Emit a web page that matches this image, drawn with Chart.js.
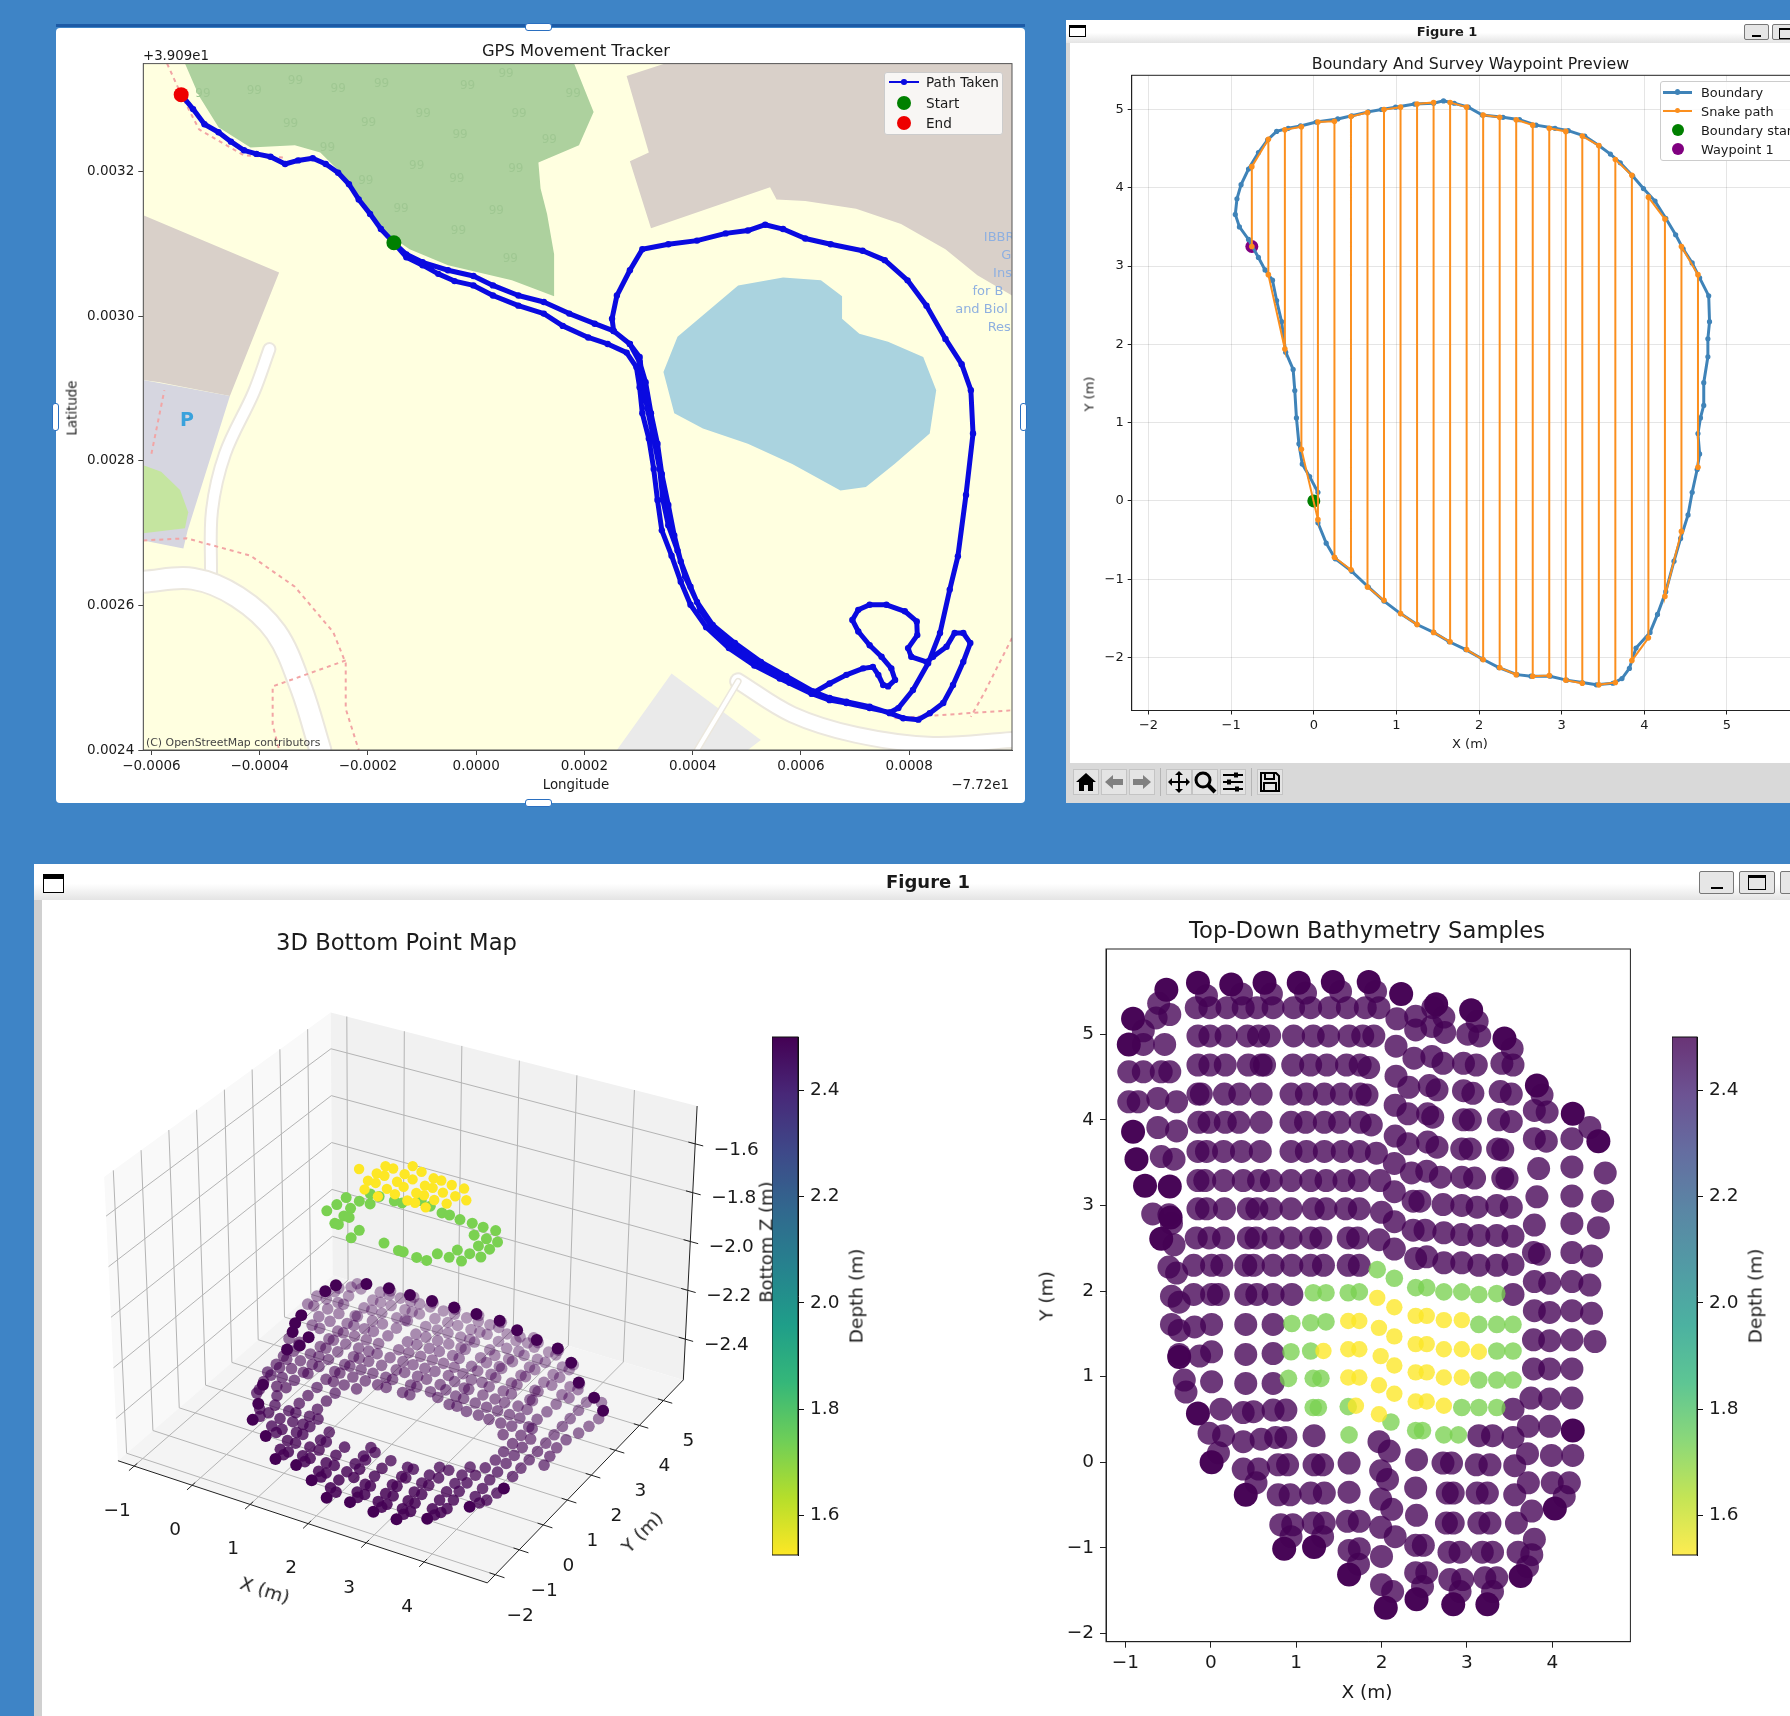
<!DOCTYPE html>
<html>
<head>
<meta charset="utf-8">
<title>Survey figures</title>
<script src="https://cdn.jsdelivr.net/npm/chart.js@4"></script>
<style>
html,body{margin:0;padding:0;width:1790px;height:1716px;overflow:hidden;background:#3e84c6;font-family:"DejaVu Sans",sans-serif;color:#1a1a1a}
canvas{position:absolute;filter:blur(0.45px)}
.box{position:absolute}
.txt{position:absolute;white-space:nowrap;transform:translate(-50%,-50%);filter:blur(0.3px)}
.bar{background:linear-gradient(#fff 55%,#e4e4e4)}
.btn{position:absolute;background:#e6e6e6;border:1px solid #777;border-radius:2px;box-sizing:border-box}
</style>
</head>
<body>
<script>
// ---------- GPS tracker values (lon / lat offsets, in units of 1e-4 deg)
const gpsLonTicks = [-6,-4,-2,0,2,4,6,8];
const gpsLatTicks = [24,26,28,30,32];
const gpsStart = [-1.52,31.02];
const gpsEnd = [-5.45,33.07];
const gpsOut = [[-1.52,31.02],[-1.29,30.82],[-0.99,30.71],[-0.70,30.59],[-0.40,30.49],[-0.05,30.43],[0.31,30.29],[0.78,30.15],[1.25,30.04],[1.60,29.87],[2.07,29.71],[2.43,29.62],[2.78,29.50],[2.96,29.30],[3.02,29.02],[3.07,28.66],[3.19,28.31],[3.28,27.89],[3.35,27.46],[3.43,27.04],[3.61,26.69],[3.78,26.33],[3.96,26.01],[4.25,25.70],[4.67,25.41],[5.14,25.17],[5.61,24.99],[6.20,24.78],[6.53,24.69],[6.84,24.65],[7.27,24.58],[7.64,24.52],[7.80,24.58],[8.07,24.83],[8.35,25.20],[8.57,25.62],[8.75,26.22],[8.90,26.68]];
const gpsLake = [[9.05,27.53],[9.18,28.38],[9.14,28.98],[8.97,29.34],[8.67,29.69],[8.32,30.15],[7.97,30.50],[7.55,30.78],[7.14,30.91],[6.55,31.0],[6.08,31.08],[5.67,31.21],[5.34,31.27],[5.02,31.19],[4.61,31.15],[4.08,31.05],[3.55,31.0],[3.07,30.93],[2.84,30.64],[2.60,30.29],[2.51,29.97],[2.54,29.80],[2.84,29.62]];
const gpsSouth = [[3.02,29.37],[3.13,29.09],[3.23,28.66],[3.35,28.24],[3.43,27.82],[3.55,27.39],[3.66,26.97],[3.78,26.61],[3.96,26.26],[4.14,25.94],[4.43,25.63],[4.84,25.38],[5.31,25.13],[5.79,24.93],[6.20,24.78]];
const gpsLoop = [[6.53,24.92],[6.84,25.04],[7.15,25.13],[7.33,25.15],[7.43,25.04],[7.52,24.90],[7.61,24.88],[7.74,24.97],[7.67,25.13],[7.49,25.29],[7.27,25.45],[7.06,25.64],[6.95,25.80],[7.06,25.94],[7.27,26.01],[7.58,26.01],[7.92,25.92],[8.14,25.78],[8.15,25.59],[7.98,25.41],[8.04,25.29],[8.32,25.22],[8.44,25.29],[8.69,25.43],[8.84,25.62],[9.0,25.62],[9.13,25.48],[9.0,25.22],[8.81,24.90],[8.63,24.65],[8.38,24.51],[8.17,24.42],[7.89,24.44],[7.64,24.51],[7.27,24.60],[6.84,24.67],[6.53,24.72],[6.23,24.81]];
const gpsBack = [[5.73,25.02],[5.26,25.22],[4.78,25.48],[4.37,25.73],[4.08,26.05],[3.86,26.40],[3.72,26.76],[3.55,27.11],[3.45,27.46],[3.39,27.89],[3.28,28.31],[3.16,28.73],[3.07,29.16],[3.02,29.44],[2.84,29.62],[2.54,29.80],[2.19,29.90],[1.72,30.04],[1.25,30.20],[0.78,30.29],[0.31,30.43],[-0.05,30.56],[-0.52,30.64],[-0.99,30.75],[-1.29,30.86],[-1.52,31.02],[-1.76,31.21],[-1.96,31.42],[-2.17,31.62],[-2.35,31.83],[-2.55,31.99],[-2.78,32.11],[-3.02,32.19],[-3.29,32.16],[-3.53,32.11],[-3.80,32.21],[-4.06,32.25],[-4.29,32.30],[-4.53,32.42],[-4.76,32.55],[-5.02,32.66],[-5.23,32.87],[-5.45,33.07]];
const gpsPath = gpsOut.concat(gpsLake, gpsSouth, gpsLoop, gpsBack);

// map shapes behind the track, same units
const mapLand = [[-6.15,24],[9.9,24],[9.9,33.5],[-6.15,33.5]];
const mapForest = [[-5.38,33.5],[1.81,33.5],[2.17,32.83],[1.90,32.37],[1.15,32.13],[1.19,31.77],[1.31,31.42],[1.44,30.86],[1.44,30.28],[0.66,30.50],[-0.52,30.71],[-1.23,30.93],[-1.64,31.14],[-2.05,31.49],[-2.41,31.92],[-2.88,32.27],[-3.35,32.37],[-4.17,32.34],[-4.76,32.62],[-5.12,33.05]];
const mapBuildingNE = [[2.78,33.33],[3.49,33.5],[9.9,33.5],[9.9,30.29],[9.26,30.57],[8.67,30.93],[7.85,31.28],[7.02,31.49],[6.08,31.60],[5.55,31.62],[5.43,31.79],[3.23,31.22],[2.84,32.15],[3.19,32.27]];
const mapBuildingW = [[-6.15,31.40],[-3.64,30.61],[-4.55,28.90],[-5.85,29.09],[-6.15,29.12]];
const mapParking = [[-6.15,29.12],[-4.55,28.90],[-5.33,27.04],[-5.41,26.79],[-6.15,26.90]];
const mapLawn = [[-6.15,27.94],[-5.82,27.85],[-5.47,27.60],[-5.32,27.29],[-5.38,27.07],[-6.15,27.0]];
const mapLake = [[4.84,30.43],[5.67,30.54],[6.37,30.50],[6.76,30.28],[6.76,29.97],[7.08,29.76],[7.61,29.65],[8.26,29.44],[8.50,28.98],[8.38,28.38],[7.73,27.96],[7.20,27.64],[6.73,27.59],[5.84,27.96],[5.02,28.24],[4.19,28.45],[3.66,28.66],[3.46,29.23],[3.72,29.72]];
const mapShed = [[3.61,25.06],[5.26,24.14],[5.02,24],[2.60,24]];
const mapRoadA = [[-3.82,29.55],[-4.11,28.95],[-4.64,28.10],[-4.88,27.32],[-4.90,26.44]];
const mapRoadB = [[-6.15,26.33],[-5.23,26.37],[-4.41,26.12],[-3.70,25.63],[-3.23,24.85],[-2.88,24]];
const mapRoadC = [[4.84,24.95],[5.84,24.49],[7.02,24.21],[8.44,24.07],[9.9,24.14]];
const mapRoadD = [[4.84,24.95],[4.08,24]];
const mapTrails = [
  [[-6.15,26.90],[-5.35,26.93],[-4.17,26.69],[-3.35,26.26],[-2.64,25.63],[-2.41,25.20],[-2.41,24.57],[-2.17,24]],
  [[-2.41,25.24],[-3.76,24.88],[-3.76,24.35],[-3.64,24]],
  [[9.9,25.55],[9.38,24.78],[9.14,24.46]],
  [[7.73,24.44],[9.9,24.55]],
  [[-5.71,33.5],[-5.45,33.07],[-5.12,32.59],[-4.29,32.23],[-3.53,32.20]],
  [[-6,28.10],[-5.76,28.98]]
];
const mapTrees = [[-5.06,33.08],[-4.11,33.12],[-3.35,33.26],[-2.56,33.15],[-1.76,33.22],[-0.17,33.19],[0.54,33.36],[1.78,33.08],[-0.99,32.80],[0.78,32.80],[-3.44,32.66],[-2.0,32.68],[-0.31,32.52],[1.34,32.45],[-2.76,32.34],[-1.11,32.09],[0.72,32.04],[-2.05,31.88],[-0.37,31.90],[-1.40,31.49],[0.36,31.46],[-0.34,31.19],[0.62,30.80]];
const mapLabels = [['IBBR',9.38,31.09],['G',9.7,30.84],['Ins',9.55,30.59],['for B',9.17,30.34],['and Biol',8.85,30.09],['Res',9.45,29.84]];

// ---------- Boundary and survey preview values (metres)
const previewXTicks = [-2,-1,0,1,2,3,4,5,6];
const previewYTicks = [-2,-1,0,1,2,3,4,5];
const boundaryPts = [[0.05,0.11],[-0.05,0.31],[-0.14,0.47],[-0.18,0.73],[-0.21,1.06],[-0.23,1.41],[-0.25,1.68],[-0.34,1.90],[-0.39,2.29],[-0.45,2.56],[-0.50,2.82],[-0.59,2.95],[-0.67,3.11],[-0.79,3.34],[-0.90,3.50],[-0.95,3.66],[-0.93,3.86],[-0.88,4.04],[-0.79,4.24],[-0.67,4.45],[-0.56,4.61],[-0.45,4.72],[-0.31,4.76],[-0.16,4.79],[0.03,4.84],[0.29,4.88],[0.46,4.92],[0.66,4.97],[0.82,5.0],[0.99,5.03],[1.22,5.07],[1.45,5.08],[1.57,5.11],[1.70,5.08],[1.87,5.03],[2.04,4.93],[2.29,4.90],[2.49,4.87],[2.69,4.80],[2.92,4.76],[3.08,4.73],[3.28,4.66],[3.45,4.54],[3.59,4.43],[3.71,4.32],[3.86,4.15],[3.99,3.99],[4.13,3.83],[4.26,3.61],[4.38,3.40],[4.47,3.22],[4.58,3.04],[4.67,2.85],[4.78,2.62],[4.79,2.29],[4.77,2.07],[4.77,1.84],[4.72,1.51],[4.72,1.22],[4.68,1.06],[4.65,0.86],[4.67,0.60],[4.64,0.40],[4.58,0.11],[4.53,-0.18],[4.44,-0.48],[4.36,-0.77],[4.26,-1.16],[4.16,-1.45],[4.07,-1.68],[3.90,-1.88],[3.82,-2.14],[3.73,-2.27],[3.62,-2.33],[3.42,-2.35],[3.25,-2.32],[3.06,-2.29],[2.86,-2.24],[2.63,-2.24],[2.46,-2.22],[2.24,-2.13],[2.04,-2.02],[1.84,-1.90],[1.64,-1.80],[1.45,-1.68],[1.25,-1.58],[1.05,-1.44],[0.85,-1.28],[0.66,-1.10],[0.46,-0.90],[0.26,-0.74],[0.15,-0.54],[0.05,-0.28]];
const snakePts = [[-0.75,3.25],[-0.75,4.27],[-0.55,4.62],[-0.55,2.89],[-0.35,1.94],[-0.35,4.74],[-0.15,4.78],[-0.15,0.66],[0.05,-0.24],[0.05,4.84],[0.25,4.85],[0.25,-0.72],[0.45,-0.88],[0.45,4.91],[0.65,4.96],[0.65,-1.10],[0.85,-1.27],[0.85,5.0],[1.05,5.03],[1.05,-1.44],[1.25,-1.58],[1.25,5.07],[1.45,5.09],[1.45,-1.68],[1.65,-1.80],[1.65,5.09],[1.85,5.03],[1.85,-1.90],[2.05,-2.03],[2.05,4.93],[2.25,4.90],[2.25,-2.13],[2.45,-2.22],[2.45,4.87],[2.65,4.80],[2.65,-2.24],[2.85,-2.23],[2.85,4.76],[3.05,4.72],[3.05,-2.29],[3.25,-2.33],[3.25,4.66],[3.45,4.54],[3.45,-2.35],[3.65,-2.32],[3.65,4.36],[3.85,4.16],[3.85,-2.04],[4.05,-1.75],[4.05,3.88],[4.25,3.60],[4.25,-1.22],[4.45,-0.39],[4.45,3.25],[4.65,2.89],[4.65,0.43]];
const boundaryStart = [0,0];
const waypointOne = [-0.75,3.25];

// ---------- Bathymetry samples (x, y in metres), grouped by measured depth
const depthTicks = [1.6,1.8,2.0,2.2,2.4];
const depthDeep = 2.52, depthMid = 2.51, depthGreen = 1.70, depthYellow = 1.53;
const sampleDarkX = [-0.91,-0.52,-0.15,0.24,0.63,1.03,1.43,1.85,2.23,2.64,3.05,3.44,3.82,4.24,4.54,-0.96,-0.91,-0.87,-0.77,-0.48,-0.47,-0.58,-0.37,-0.15,0.01,0.41,0.86,1.21,1.62,2.05,2.41,2.84,3.24,3.63,4.03,4.24];
const sampleDarkY = [5.18,5.52,5.60,5.58,5.60,5.60,5.61,5.61,5.47,5.35,5.28,4.95,4.40,4.07,3.75,4.88,3.86,3.54,3.23,3.22,2.86,2.61,1.23,0.57,0,-0.38,-1.01,-0.99,-1.31,-1.70,-1.60,-1.66,-1.66,-1.33,-0.54,0.37];
const samplePurple = [
[-0.05,5.45],[0.36,5.47],[0.71,5.47],[1.11,5.48],[1.52,5.50],[1.93,5.50],[-0.61,5.36],
[-0.17,5.31],[-0.01,5.31],[0.19,5.31],[0.38,5.31],[0.54,5.31],[0.73,5.31],[0.97,5.31],[1.17,5.31],[1.39,5.31],[1.60,5.31],[1.81,5.31],[1.97,5.31],[2.18,5.18],[2.40,5.21],[2.60,5.31],[2.73,5.20],[3.12,5.15],[-0.64,5.19],[-0.48,5.23],[3.53,4.83],[-0.79,5.04],
[-0.15,4.98],[-0.01,4.98],[0.18,4.98],[0.43,4.98],[0.56,4.98],[0.69,4.98],[0.97,4.98],[1.20,4.98],[1.38,4.98],[1.62,4.98],[1.78,4.98],[1.91,4.98],[2.17,4.86],[2.40,5.05],[2.59,5.09],[2.74,5.02],[3.01,5.0],[3.15,4.98],[-0.79,4.88],[-0.54,4.88],
[-0.15,4.64],[-0.01,4.64],[0.17,4.64],[0.44,4.64],[0.59,4.64],[0.63,4.64],[0.96,4.64],[1.17,4.64],[1.36,4.64],[1.59,4.64],[1.75,4.64],[1.85,4.61],[2.17,4.51],[2.38,4.72],[2.59,4.74],[2.72,4.66],[2.96,4.66],[3.11,4.64],[3.41,4.66],[3.54,4.64],[-0.96,4.56],[-0.79,4.56],[-0.58,4.56],[-0.48,4.56],
[-0.15,4.30],[-0.11,4.30],[0.16,4.30],[0.34,4.30],[0.59,4.30],[0.94,4.30],[1.12,4.30],[1.33,4.30],[1.53,4.30],[1.75,4.30],[1.83,4.29],[2.16,4.17],[2.32,4.38],[2.56,4.40],[2.65,4.35],[2.96,4.34],[3.07,4.31],[3.39,4.33],[3.52,4.30],[-0.96,4.21],[-0.85,4.21],[-0.62,4.25],[-0.40,4.21],[3.88,4.29],
[-0.14,3.97],[-0.02,3.97],[0.17,3.97],[0.33,3.97],[0.59,3.97],[0.94,3.97],[1.11,3.97],[1.33,3.97],[1.51,3.97],[1.75,3.97],[1.88,3.94],[2.31,4.07],[2.54,4.07],[2.60,4.03],[2.96,4.0],[3.04,4.0],[3.37,4.0],[3.52,3.98],[3.79,4.11],[3.94,4.09],[-0.62,3.91],[-0.40,3.87],
[-0.15,3.63],[-0.05,3.63],[0.15,3.63],[0.36,3.63],[0.58,3.63],[0.94,3.63],[1.12,3.63],[1.33,3.63],[1.54,3.63],[1.74,3.63],[1.94,3.61],[2.16,3.81],[2.31,3.72],[2.54,3.74],[2.65,3.68],[2.94,3.66],[3.04,3.66],[3.36,3.66],[3.42,3.65],[3.79,3.78],[3.93,3.75],[4.23,3.78],[4.44,3.91],[-0.58,3.57],[-0.43,3.54],
[-0.15,3.29],[-0.07,3.29],[0.15,3.29],[0.38,3.29],[0.56,3.29],[0.71,3.29],[0.94,3.29],[1.17,3.29],[1.35,3.29],[1.56,3.29],[1.74,3.29],[1.98,3.29],[2.15,3.49],[2.35,3.38],[2.53,3.40],[2.69,3.33],[2.94,3.33],[3.09,3.32],[3.42,3.32],[3.47,3.31],[3.84,3.43],[4.23,3.45],[4.62,3.38],
[-0.15,2.96],[-0.05,2.96],[0.16,2.96],[0.44,2.96],[0.54,2.96],[0.71,2.96],[0.94,2.96],[1.20,2.96],[1.35,2.96],[1.58,2.96],[1.74,2.96],[2.0,2.92],[2.15,3.16],[2.37,3.05],[2.45,3.05],[2.72,3.01],[2.94,3.0],[3.12,2.98],[3.35,3.0],[3.52,2.98],[3.82,3.10],[4.23,3.11],[4.59,3.05],[-0.68,2.90],[-0.49,2.89],[-0.46,2.79],
[-0.17,2.62],[-0.02,2.62],[0.15,2.62],[0.44,2.62],[0.53,2.62],[0.73,2.62],[0.94,2.62],[1.17,2.62],[1.29,2.62],[1.61,2.62],[1.72,2.62],[1.97,2.60],[2.15,2.81],[2.37,2.71],[2.51,2.71],[2.73,2.68],[2.94,2.66],[3.14,2.65],[3.35,2.65],[3.54,2.64],[3.79,2.77],[4.23,2.79],[4.54,2.74],[-0.43,2.54],
[-0.20,2.30],[0.01,2.30],[0.13,2.30],[0.41,2.30],[0.50,2.30],[0.73,2.30],[0.95,2.30],[1.17,2.30],[1.32,2.30],[1.61,2.30],[1.74,2.30],[-0.49,2.28],[-0.40,2.21],[2.15,2.49],[2.40,2.38],[2.53,2.40],[2.73,2.33],[2.94,2.33],[3.14,2.30],[3.35,2.30],[3.54,2.31],[3.78,2.45],[3.85,2.43],[4.23,2.45],[4.46,2.41],
[-0.46,1.94],[-0.37,1.87],[-0.20,1.96],[0.01,1.96],[0.09,1.96],[0.41,1.96],[0.54,1.96],[0.73,1.96],[0.95,1.96],[3.54,1.96],[3.79,2.11],[3.97,2.09],[4.23,2.11],[4.44,2.07],
[-0.46,1.61],[-0.37,1.54],[-0.19,1.58],[0.01,1.61],[0.41,1.61],[0.73,1.61],[3.79,1.77],[3.97,1.75],[4.23,1.77],[4.46,1.74],
[-0.37,1.26],[-0.13,1.24],[0.01,1.29],[0.41,1.26],[0.73,1.27],[3.78,1.43],[3.97,1.42],[4.23,1.43],[4.50,1.41],
[-0.31,0.96],[-0.29,0.82],[0.01,0.94],[0.41,0.92],[0.73,0.92],[3.78,1.09],[3.97,1.09],[4.23,1.09],
[0.12,0.62],[0.38,0.58],[0.50,0.59],[0.73,0.61],[0.88,0.61],[3.54,0.62],[3.75,0.75],[3.97,0.74],[4.23,0.75],
[-0.02,0.34],[0.15,0.31],[0.38,0.24],[0.59,0.27],[0.76,0.29],[0.88,0.29],[1.21,0.31],[1.97,0.24],[3.14,0.31],[3.30,0.31],[3.54,0.29],[3.72,0.42],[3.97,0.42],
[0.09,0.11],[0.38,-0.08],[0.56,-0.08],[0.79,-0.03],[0.90,-0.03],[1.21,-0.03],[1.31,-0.03],[1.62,-0.01],[1.99,-0.10],[2.09,0.13],[2.41,0.03],[2.72,-0.01],[2.82,-0.01],[3.11,-0.03],[3.27,-0.03],[3.56,-0.04],[3.71,0.10],[3.99,0.08],[4.24,0.08],
[0.53,-0.24],[0.79,-0.38],[0.93,-0.38],[1.17,-0.36],[1.33,-0.36],[1.62,-0.35],[1.99,-0.43],[2.07,-0.20],[2.40,-0.30],[2.77,-0.36],[2.84,-0.36],[3.12,-0.36],[3.24,-0.36],[3.56,-0.38],[3.72,-0.24],[4.0,-0.24],[4.20,-0.24],[4.14,-0.40],
[0.82,-0.73],[0.96,-0.73],[1.20,-0.71],[1.33,-0.71],[1.60,-0.69],[1.74,-0.69],[1.99,-0.76],[2.12,-0.55],[2.41,-0.62],[2.76,-0.71],[2.84,-0.71],[3.14,-0.71],[3.27,-0.71],[3.58,-0.71],[3.76,-0.57],
[0.94,-0.87],[1.31,-0.87],[1.74,-1.01],[1.62,-1.03],[2.0,-1.10],[2.16,-0.87],[2.40,-0.97],[2.49,-0.97],[2.79,-1.05],[2.92,-1.05],[3.18,-1.05],[3.30,-1.05],[3.60,-1.05],[3.79,-0.90],[3.76,-1.08],
[1.73,-1.19],[2.0,-1.43],[2.13,-1.51],[2.40,-1.29],[2.53,-1.29],[2.80,-1.37],[2.95,-1.37],[3.21,-1.35],[3.35,-1.35],[3.71,-1.22],
[2.48,-1.45],[2.92,-1.51],[3.30,-1.51]];
const sampleGreen = [[1.20,1.98],[1.35,1.98],[1.61,1.98],[1.74,1.99],[1.95,2.25],[2.15,2.15],[2.40,2.04],[2.53,2.04],[2.73,1.99],[2.94,1.99],[3.14,1.96],[3.35,1.97],[0.95,1.62],[1.17,1.63],[1.35,1.64],[3.14,1.61],[3.35,1.61],[3.54,1.61],[0.94,1.29],[1.17,1.30],[3.35,1.30],[3.54,1.30],[0.91,0.98],[1.20,0.98],[1.29,0.98],[3.14,0.96],[3.35,0.96],[3.54,0.96],[1.20,0.64],[1.26,0.64],[1.61,0.65],[2.94,0.64],[3.14,0.64],[3.35,0.64],[1.62,0.32],[2.11,0.47],[2.40,0.37],[2.48,0.37],[2.73,0.32],[2.90,0.32]];
const sampleYellow = [[1.95,1.92],[1.61,1.65],[1.74,1.65],[1.97,1.57],[2.15,1.81],[2.40,1.71],[2.53,1.71],[2.73,1.66],[2.94,1.66],[1.32,1.30],[1.61,1.32],[1.74,1.32],[1.99,1.24],[2.15,1.47],[2.40,1.38],[2.53,1.38],[2.73,1.32],[2.94,1.32],[3.14,1.29],[1.61,0.99],[1.74,0.99],[1.97,0.90],[2.15,1.13],[2.40,1.05],[2.53,1.05],[2.73,0.99],[2.94,0.99],[1.70,0.66],[1.97,0.56],[2.15,0.80],[2.40,0.71],[2.53,0.71],[2.73,0.66]];
const bathyXTicks = [-1,0,1,2,3,4];
const bathyYTicks = [-2,-1,0,1,2,3,4,5];
const viridisStops = ['#fde725','#b5de2b','#6ece58','#35b779','#1f9e89','#26828e','#31688e','#3e4989','#482878','#440154'];

// ---------- helpers
const FONT = '"DejaVu Sans", sans-serif';
Chart.defaults.font.family = FONT;
const minus = s => String(s).replace('-', '\u2212');
const toXY = pts => pts.map(p => ({x:p[0], y:p[1]}));

function el(cls, css, html){
  const d = document.createElement('div');
  d.className = cls;
  d.style.cssText = css;
  if (html) d.innerHTML = html;
  document.body.appendChild(d);
  return d;
}
function rect(x, y, w, h, bg, extra){ return el('box', `left:${x}px;top:${y}px;width:${w}px;height:${h}px;background:${bg};${extra||''}`); }
function label(text, x, y, size, opt){
  opt = opt || {};
  const rot = opt.rot ? ` rotate(${opt.rot}deg)` : '';
  const tx = opt.anchor === 'right' ? '-100%' : (opt.anchor === 'left' ? '0' : '-50%');
  const d = el('txt', `left:${x}px;top:${y}px;font-size:${size}px;font-weight:${opt.weight||'normal'};color:${opt.color||'#1a1a1a'};transform:translate(${tx},-50%)${rot};z-index:${opt.z||5}`);
  d.textContent = text;
}
function addCanvas(x, y, w, h, z){
  const c = document.createElement('canvas');
  c.width = w; c.height = h;
  c.style.cssText = `left:${x}px;top:${y}px;width:${w}px;height:${h}px;z-index:${z||1}`;
  document.body.appendChild(c);
  return c;
}
function poly(pts, color){ return {data:toXY(pts), showLine:true, fill:'shape', backgroundColor:color, borderWidth:0, pointRadius:0}; }
function stroke(pts, color, w, dash){ return {data:toXY(pts), showLine:true, fill:false, borderColor:color, borderWidth:w, borderDash:dash||[], pointRadius:0}; }
function road(pts, color, w){ const s = stroke(pts, color, w); s.tension = 0.35; s.borderCapStyle = 'round'; s.borderJoinStyle = 'round'; return s; }
function dots(pts, color, r){ return {data:toXY(pts), showLine:false, pointBackgroundColor:color, pointBorderWidth:0, pointRadius:r}; }

// plot box is fixed so axes land where they do in the figure
function axisOpts(box, which, min, max, ticks, fmt, size, tickLen, tickColor, pad){
  const o = {
    type:'linear', min:min, max:max,
    afterFit(s){ if (which === 'x') s.height = box.h - box.b; else s.width = box.l; },
    afterBuildTicks(s){ s.ticks = ticks.map(v => ({value:v})); },
    border:{color:tickColor, width:1},
    ticks:{callback:fmt, color:'#1a1a1a', font:{size:size}, padding:pad, autoSkip:false, maxRotation:0, minRotation:0},
    grid:{drawOnChartArea:false, drawTicks:true, tickLength:tickLen, tickColor:tickColor, tickWidth:1}
  };
  return o;
}
function framePlugin(color){
  return {id:'frame', afterDatasetsDraw(ch){
    const a = ch.chartArea, c = ch.ctx;
    c.save(); c.strokeStyle = color; c.lineWidth = 1;
    c.strokeRect(a.left, a.top, a.right - a.left, a.bottom - a.top);
    c.restore();
  }};
}
function makeChart(canvas, datasets, scales, box, plugins){
  return new Chart(canvas, {
    type:'scatter',
    data:{datasets:datasets.slice().reverse()},   // first in list is painted first
    options:{
      responsive:false, animation:false, events:[],
      layout:{padding:box ? {left:0, top:box.t, right:box.w - box.r, bottom:0} : 0},
      plugins:{legend:{display:false}, tooltip:{enabled:false}},
      scales:scales
    },
    plugins:plugins||[]
  });
}
function legendBox(x, y, w, h, rows, size, bg){
  rect(x, y, w, h, bg, 'border:1px solid #ccc;border-radius:3px;box-sizing:border-box;z-index:4');
  rows.forEach(r => {
    if (r.line){
      rect(r.hx, r.y - r.lw/2, r.hw, r.lw, r.color, 'z-index:5');
      rect(r.hx + r.hw/2 - r.dot, r.y - r.dot, r.dot*2, r.dot*2, r.color, 'border-radius:50%;z-index:5');
    } else {
      rect(r.hx + r.hw/2 - r.dot, r.y - r.dot, r.dot*2, r.dot*2, r.color, 'border-radius:50%;z-index:5');
    }
    label(r.text, r.tx, r.y, size, {anchor:'left', z:5});
  });
}
function colorbar(x, y, w, h, alphaHex, tickX){
  const pad = 30, cw = w + 90, ch = h + pad*2;
  const c = addCanvas(x, y - pad, cw, ch, 3);
  new Chart(c, {
    type:'bar',
    data:{labels:['d'], datasets:[{
      data:[[1.526, 2.5]], barPercentage:1, categoryPercentage:1,
      backgroundColor(ctx){
        const a = ctx.chart.chartArea;
        if (!a) return '#888';
        const g = ctx.chart.ctx.createLinearGradient(0, a.bottom, 0, a.top);
        viridisStops.forEach((s, i) => g.addColorStop(i/(viridisStops.length-1), s + alphaHex));
        return g;
      }
    }]},
    options:{
      responsive:false, animation:false, events:[],
      layout:{padding:{left:0, top:pad, right:0, bottom:pad}},
      plugins:{legend:{display:false}, tooltip:{enabled:false}},
      scales:{
        x:{display:false},
        y:{position:'right', min:1.526, max:2.5,
           afterFit(s){ s.width = cw - w; },
           afterBuildTicks(s){ s.ticks = depthTicks.map(v => ({value:v})); },
           border:{color:'#111', width:1},
           ticks:{callback:v => v.toFixed(1), color:'#1a1a1a', font:{size:18.5}, padding:6, autoSkip:false},
           grid:{drawOnChartArea:false, tickLength:6, tickColor:'#111'}}
      }
    },
    plugins:[framePlugin('#111')]
  });
  label('Depth (m)', tickX, y + h*0.5, 18.5, {rot:-90});
}

// ---------- windows
// GPS image panel
rect(56, 28, 969, 775, '#fff', 'border-radius:4px');
rect(56, 24, 969, 3, '#1c5aa6');
[[525,23,27,8],[525,799,27,8],[52,403,7,28],[1020,403,7,28]].forEach(h => rect(h[0],h[1],h[2],h[3],'#fff','border:1px solid #2a6fc0;border-radius:3px;box-sizing:border-box;z-index:6'));

// preview window
rect(1066, 20, 724, 783, '#fff');
rect(1066, 20, 4, 783, '#d8d8d8');
el('box bar', 'left:1066px;top:20px;width:724px;height:23px');
function winIcon(x, y, w, h){ rect(x, y, w, h, '#fff', `border:1px solid #000;border-top:${Math.round(h/4)}px solid #000;box-sizing:border-box;z-index:6`); }
winIcon(1069, 25, 17, 12);
label('Figure 1', 1447, 31, 13, {weight:'bold'});
el('btn', 'left:1744px;top:24px;width:25px;height:16px;', '<div style="width:9px;height:2px;background:#000;margin:10px auto 0"></div>');
el('btn', 'left:1772px;top:24px;width:25px;height:16px;', '<div style="width:10px;height:8px;border:1px solid #000;border-top-width:2px;margin:3px 0 0 6px"></div>');
rect(1070, 763, 720, 40, '#d9d9d9');
// toolbar icons
const toolbarIcons = [
  [1086,'<path d="M12 3 2 12h3v9h5v-6h4v6h5v-9h3z" fill="#000"/>'],
  [1114,'<path d="M3 12 11 5v4h10v6H11v4z" fill="#808080"/>'],
  [1142,'<path d="M21 12 13 5v4H3v6h10v4z" fill="#808080"/>'],
  [1179,'<path d="M12 1 8 5h3v6H5V8l-4 4 4 4v-3h6v6H8l4 4 4-4h-3v-6h6v3l4-4-4-4v3h-6V5h3z" fill="#000"/>'],
  [1205,'<circle cx="10" cy="10" r="7" fill="none" stroke="#000" stroke-width="3"/><path d="m15 15 7 7" stroke="#000" stroke-width="4"/>'],
  [1233,'<path d="M2 5h20M2 12h20M2 19h20" stroke="#000" stroke-width="2"/><rect x="13" y="2.5" width="4" height="5" /><rect x="6" y="9.5" width="4" height="5"/><rect x="14" y="16.5" width="4" height="5"/>'],
  [1270,'<path d="M3 3h15l3 3v15H3z" fill="none" stroke="#000" stroke-width="2"/><rect x="7" y="3" width="9" height="6" fill="none" stroke="#000" stroke-width="2"/><rect x="6" y="13" width="12" height="8" fill="none" stroke="#000" stroke-width="2"/>']
];
toolbarIcons.forEach(t => {
  rect(t[0]-13, 769, 26, 26, '#e4e4e4', 'border:1px solid #c4c4c4;box-sizing:border-box;z-index:5');
  el('box', `left:${t[0]-12}px;top:770px;width:24px;height:24px;z-index:6`, `<svg width="24" height="24" viewBox="0 0 24 24">${t[1]}</svg>`);
});
rect(1160, 768, 1, 28, '#b5b5b5'); rect(1251, 768, 1, 28, '#b5b5b5');

// bathymetry window
rect(34, 864, 1756, 852, '#fff');
el('box bar', 'left:34px;top:864px;width:1756px;height:36px');
rect(34, 900, 8, 816, '#d0d0d0');
winIcon(43, 874, 21, 19);
label('Figure 1', 928, 881, 18, {weight:'bold'});
el('btn', 'left:1699px;top:871px;width:35px;height:23px;', '<div style="width:12px;height:2px;background:#000;margin:15px auto 0"></div>');
el('btn', 'left:1739px;top:871px;width:36px;height:23px;', '<div style="width:16px;height:11px;border:1px solid #000;border-top-width:3px;margin:3px auto 0"></div>');
el('btn', 'left:1780px;top:871px;width:36px;height:23px;');

// ---------- 1. GPS tracker
(function(){
  const box = {w:969, h:775, l:87.3, t:35.6, r:956, b:722};
  const fmt = v => minus((v/1e4).toFixed(4));
  const c = addCanvas(56, 28, box.w, box.h);
  const trackColor = '#0a0ae0';
  const casing = '#ebe7dd';
  const sets = [
    poly(mapLand, '#ffffe0'),
    poly(mapForest, '#add19e'),
    poly(mapBuildingNE, '#d9d0c9'),
    poly(mapBuildingW, '#d9d0c9'),
    poly(mapParking, '#d6d6e0'),
    poly(mapLawn, '#c5e5a0'),
    poly(mapLake, '#aad3df'),
    poly(mapShed, '#eaeaea'),
    road(mapRoadA, casing, 14), road(mapRoadA, '#ffffff', 10),
    road(mapRoadB, casing, 24), road(mapRoadB, '#ffffff', 20),
    road(mapRoadC, casing, 18), road(mapRoadC, '#ffffff', 14),
    road(mapRoadD, casing, 7), road(mapRoadD, '#ffffff', 4)
  ];
  mapTrails.forEach(t => sets.push(stroke(t, '#f2a5a5', 2, [4,4])));
  sets.push({data:toXY(gpsPath), showLine:true, fill:false, borderColor:trackColor, borderWidth:5, borderJoinStyle:'round',
             pointRadius:3.2, pointBackgroundColor:trackColor, pointBorderWidth:0});
  sets.push(dots([gpsStart], '#008000', 7.5));
  sets.push(dots([gpsEnd], '#ee0000', 7.5));
  const mapText = {id:'mapText', afterDatasetsDraw(ch){
    const g = ch.ctx, a = ch.chartArea, sx = ch.scales.x, sy = ch.scales.y;
    g.save();
    g.beginPath(); g.rect(a.left, a.top, a.right-a.left, a.bottom-a.top); g.clip();
    g.textBaseline = 'middle';
    g.fillStyle = '#9fc792'; g.font = '12px ' + FONT;
    mapTrees.forEach(t => g.fillText('99', sx.getPixelForValue(t[0])-7, sy.getPixelForValue(t[1])));
    g.fillStyle = '#8fb0e0'; g.font = '13px ' + FONT;
    mapLabels.forEach(t => g.fillText(t[0], sx.getPixelForValue(t[1]), sy.getPixelForValue(t[2])));
    g.fillStyle = '#3aa2dc'; g.font = 'bold 19px ' + FONT;
    g.fillText('P', sx.getPixelForValue(-5.47), sy.getPixelForValue(28.55));
    g.fillStyle = '#444'; g.font = '10.9px ' + FONT;
    g.fillText('(C) OpenStreetMap contributors', sx.getPixelForValue(-6.1), sy.getPixelForValue(24.09));
    g.restore();
  }};
  makeChart(c, sets, {
    x:axisOpts(box, 'x', -6.15, 9.9, gpsLonTicks, fmt, 13.5, 5, '#444', 3),
    y:axisOpts(box, 'y', 24, 33.5, gpsLatTicks, fmt, 13.5, 5, '#444', 4)
  }, box, [mapText, framePlugin('#555')]);
  label('GPS Movement Tracker', 576, 50, 16.3);
  label('+3.909e1', 143, 55, 13.3, {anchor:'left'});
  label('Longitude', 576, 784, 13.4);
  label('\u22127.72e1', 1009, 784, 13.4, {anchor:'right'});
  label('Latitude', 72, 408, 13.4, {rot:-90});
  legendBox(884, 72, 119, 63, [
    {line:true, color:trackColor, lw:2.5, dot:2.8, hx:889, hw:30, y:82, tx:926, text:'Path Taken'},
    {color:'#008000', dot:7, hx:889, hw:30, y:103, tx:926, text:'Start'},
    {color:'#ee0000', dot:7, hx:889, hw:30, y:123, tx:926, text:'End'}
  ], 13.6, 'rgba(255,255,255,0.8)');
})();

// ---------- 2. Boundary preview
(function(){
  const box = {w:800, h:783, l:99.7, t:55.3, r:777.5, b:690.5};
  const c = addCanvas(1032, 20, box.w, box.h);
  const sets = [
    dots([boundaryStart], '#008000', 6.5),
    dots([waypointOne], '#800080', 6.5),
    {data:toXY(boundaryPts), showLine:true, fill:false, borderColor:'#3f83b8', borderWidth:3, pointRadius:2.6, pointBackgroundColor:'#3f83b8', pointBorderWidth:0},
    {data:toXY(snakePts), showLine:true, fill:false, borderColor:'#fb8f1e', borderWidth:2, pointRadius:2.8, pointBackgroundColor:'#fb8f1e', pointBorderWidth:0}
  ];
  const x = axisOpts(box, 'x', -2.204, 6, previewXTicks, v => minus(v), 13, 4, '#222', 3);
  const y = axisOpts(box, 'y', -2.678, 5.437, previewYTicks, v => minus(v), 13, 4, '#222', 4);
  x.grid.drawOnChartArea = true; x.grid.color = 'rgba(0,0,0,0.1)';
  y.grid.drawOnChartArea = true; y.grid.color = 'rgba(0,0,0,0.1)';
  makeChart(c, sets, {x:x, y:y}, box, [framePlugin('#222')]);
  label('Boundary And Survey Waypoint Preview', 1470.5, 62.5, 15.8);
  label('X (m)', 1470, 743, 13);
  label('Y (m)', 1089, 394, 13, {rot:-90});
  legendBox(1660, 81, 160, 80, [
    {line:true, color:'#3f83b8', lw:3, dot:2.6, hx:1663, hw:29, y:92, tx:1701, text:'Boundary'},
    {line:true, color:'#fb8f1e', lw:2, dot:2.6, hx:1663, hw:29, y:110.5, tx:1701, text:'Snake path'},
    {color:'#008000', dot:6, hx:1663, hw:29, y:130, tx:1701, text:'Boundary start'},
    {color:'#800080', dot:6, hx:1663, hw:29, y:149, tx:1701, text:'Waypoint 1'}
  ], 12.9, 'rgba(255,255,255,0.85)');
})();

// ---------- 3. 3D view: samples go through a corner-based projection onto a plain scatter chart
(function(){
  const xr = [-1.28, 5.09], yr = [-2.33, 5.83], zr = [-2.567, -1.445];
  // screen position of the eight corners of the axes cube (floor, then ceiling)
  const floor = [[113,1463],[488,1587],[687,1381],[331,1275]];
  const roof = [[99,1175],[491,1297],[701,1103],[329,1008]];
  function project(x, y, z){
    const u = (x-xr[0])/(xr[1]-xr[0]), v = (y-yr[0])/(yr[1]-yr[0]), w = (z-zr[0])/(zr[1]-zr[0]);
    const bil = c => [0,1].map(k => (1-v)*((1-u)*c[0][k]+u*c[1][k]) + v*((1-u)*c[3][k]+u*c[2][k]));
    const a = bil(floor), b = bil(roof);
    return [a[0]*(1-w)+b[0]*w, a[1]*(1-w)+b[1]*w];
  }
  const gap = [NaN, NaN];
  const segs = list => list.flatMap(s => [project.apply(null, s[0]), project.apply(null, s[1]), gap]);
  const xs = bathyXTicks, ys = bathyYTicks, zs = [-2.4,-2.2,-2.0,-1.8,-1.6];
  const grid = [];
  xs.forEach(v => { grid.push([[v,yr[0],zr[0]],[v,yr[1],zr[0]]]); grid.push([[v,yr[1],zr[0]],[v,yr[1],zr[1]]]); });
  ys.forEach(v => { grid.push([[xr[0],v,zr[0]],[xr[1],v,zr[0]]]); grid.push([[xr[0],v,zr[0]],[xr[0],v,zr[1]]]); });
  zs.forEach(v => { grid.push([[xr[0],yr[0],v],[xr[0],yr[1],v]]); grid.push([[xr[0],yr[1],v],[xr[1],yr[1],v]]); });
  const axes = [[[xr[0],yr[0],zr[0]],[xr[1],yr[0],zr[0]]], [[xr[1],yr[0],zr[0]],[xr[1],yr[1],zr[0]]], [[xr[1],yr[1],zr[0]],[xr[1],yr[1],zr[1]]]];
  const marks = [];
  xs.forEach(v => marks.push([[v,yr[0]+0.12,zr[0]],[v,yr[0]-0.2,zr[0]]]));
  ys.forEach(v => marks.push([[xr[1]-0.1,v,zr[0]],[xr[1]+0.16,v,zr[0]]]));
  zs.forEach(v => marks.push([[xr[1]-0.12,yr[1],v],[xr[1]+0.14,yr[1],v]]));

  const pane = (a,b,c,d) => [a,b,c,d].map(p => project.apply(null, p));
  const [x0,x1] = xr, [y0,y1] = yr, [z0,z1] = zr;

  const shade = y => 'rgba(68,1,84,' + Math.max(0.38, Math.min(0.92, 0.92 - 0.56*(y+2)/7.2)).toFixed(2) + ')';
  const purple = samplePurple.slice().sort((a,b) => b[1]-a[1]);
  const darkPts = sampleDarkX.map((v,i) => [v, sampleDarkY[i]]).sort((a,b) => b[1]-a[1]);

  const sets = [
    poly(pane([x0,y0,z0],[x0,y1,z0],[x0,y1,z1],[x0,y0,z1]), '#f9f9f9'),
    poly(pane([x0,y1,z0],[x1,y1,z0],[x1,y1,z1],[x0,y1,z1]), '#f1f1f1'),
    poly(pane([x0,y0,z0],[x1,y0,z0],[x1,y1,z0],[x0,y1,z0]), '#f4f4f4'),
    stroke(segs(grid), '#b4b4b4', 1),
    stroke(segs(axes), '#222', 1),
    stroke(segs(marks), '#222', 1),
    dots(purple.map(p => project(p[0],p[1],-depthMid)), purple.map(p => shade(p[1])), 5.8),
    dots(darkPts.map(p => project(p[0],p[1],-depthDeep)), '#440154', 6),
    dots(sampleGreen.map(p => project(p[0],p[1],-depthGreen)), '#7ad151', 5.5),
    dots(sampleYellow.map(p => project(p[0],p[1],-depthYellow)), '#fde725', 5.2)
  ];
  sets.forEach(s => { s.spanGaps = false; });
  const c = addCanvas(42, 900, 800, 816);
  const tickText = {id:'tickText', afterDatasetsDraw(ch){
    const g = ch.ctx, sx = ch.scales.x, sy = ch.scales.y;
    g.save();
    g.fillStyle = '#1a1a1a'; g.font = '18.5px ' + FONT; g.textAlign = 'center'; g.textBaseline = 'middle';
    const put = (txt, p, dx, dy) => g.fillText(minus(txt), sx.getPixelForValue(p[0])+dx, sy.getPixelForValue(p[1])+dy);
    xs.forEach(v => put(v, project(v,yr[0],zr[0]), -17, 45));
    ys.forEach(v => put(v, project(xr[1],v,zr[0]), 25, 41));
    zs.forEach(v => put(v.toFixed(1), project(xr[1],yr[1],v), 41, 6));
    g.restore();
  }};
  const hidden = (min, max, rev) => ({type:'linear', display:false, min:min, max:max, reverse:!!rev});
  makeChart(c, sets, {x:hidden(42,842), y:hidden(900,1716,true)}, null, [tickText]);
  label('3D Bottom Point Map', 396.5, 942, 22.7);
  label('X (m)', 265, 1590, 18.5, {rot:18});
  label('Y (m)', 642, 1532, 18.5, {rot:-45});
  label('Bottom Z (m)', 766, 1242, 18, {rot:-90, z:2});
  colorbar(772, 1037, 26, 518, 'ff', 855.5);
})();

// ---------- 4. Top-down samples
(function(){
  const box = {w:680, h:800, l:96, t:39, r:620.4, b:731.7};
  const c = addCanvas(1010, 910, box.w, box.h);
  const darkPts = sampleDarkX.map((v,i) => [v, sampleDarkY[i]]);
  const sets = [
    dots(samplePurple, 'rgba(68,1,84,0.78)', 11.5),
    dots(darkPts, 'rgba(68,1,84,0.98)', 12),
    dots(sampleGreen, 'rgba(122,209,81,0.78)', 8.8),
    dots(sampleYellow, 'rgba(253,231,37,0.78)', 8.2)
  ];
  makeChart(c, sets, {
    x:axisOpts(box, 'x', -1.227, 4.915, bathyXTicks, v => minus(v), 18.5, 6, '#222', 4),
    y:axisOpts(box, 'y', -2.096, 5.995, bathyYTicks, v => minus(v), 18.5, 6, '#222', 6)
  }, box, [framePlugin('#222')]);
  label('Top-Down Bathymetry Samples', 1367, 930, 22.7);
  label('X (m)', 1367, 1691, 18.5);
  label('Y (m)', 1046, 1296, 18.5, {rot:-90});
  colorbar(1672, 1037, 25, 518, 'cc', 1755);
})();
</script>
</body>
</html>
